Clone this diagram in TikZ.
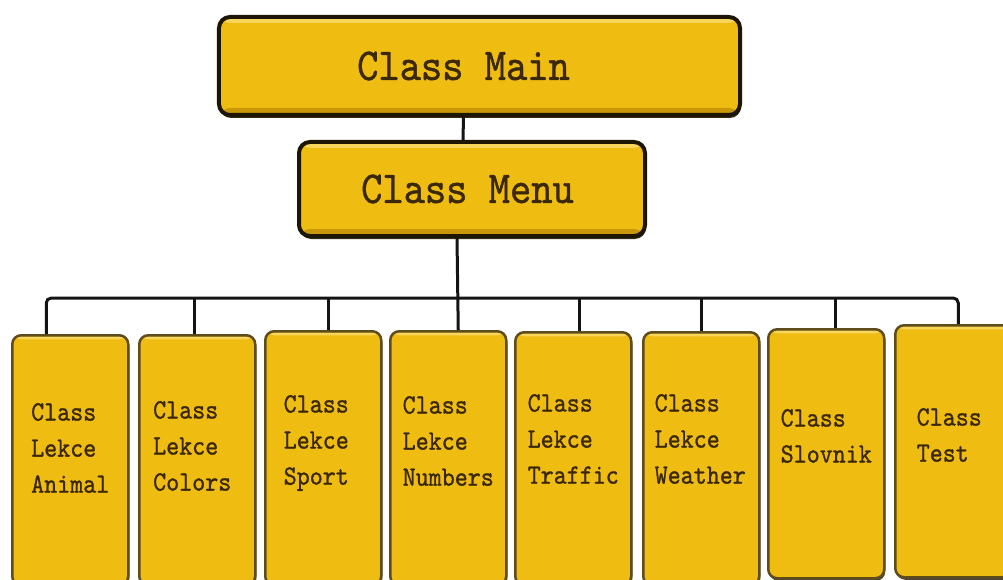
\documentclass[tikz,border=0pt]{standalone}
\usepackage{fontspec}
\newfontfamily\codefont{lmmono10-regular}[Extension=.otf,FakeBold=1]
\usepackage{xcolor}
\usepackage{tikz}
\usetikzlibrary{calc}
\usetikzlibrary{shadows}
\usetikzlibrary{positioning}

\definecolor{boxfill}{HTML}{EFBC12}
\definecolor{hilite}{HTML}{F8D65C}
\definecolor{lowlite}{HTML}{C99808}
\definecolor{boxline}{HTML}{1E1605}
\definecolor{lekline}{HTML}{5E4C1C}
\definecolor{txtbrown}{HTML}{3A2806}
\definecolor{linkcol}{HTML}{141414}

\tikzset{
	topbox/.style={draw=boxline,line width=4bp,fill=boxfill,rounded corners=11bp,inner sep=0pt,
		drop shadow={shadow xshift=1bp,shadow yshift=-3bp,fill=boxline,opacity=0.9},
		path picture={
			\fill[hilite] ([yshift=-2bp]path picture bounding box.north west) rectangle ([yshift=-6bp]path picture bounding box.north east);
			\fill[lowlite] ([yshift=2bp]path picture bounding box.south west) rectangle ([yshift=7bp]path picture bounding box.south east);}},
	lekbox/.style={draw=lekline,line width=2.5bp,fill=boxfill,rounded corners=9bp,inner sep=0pt,
		anchor=north west,minimum width=116bp,
		drop shadow={shadow xshift=1bp,shadow yshift=-2.5bp,fill=boxline,opacity=0.8},
		path picture={
			\fill[hilite] ([yshift=-1bp]path picture bounding box.north west) rectangle ([yshift=-4bp]path picture bounding box.north east);}},
	toptext/.style={font=\codefont\fontsize{40.5bp}{46bp}\selectfont,text=txtbrown,yscale=1.13,inner sep=0pt},
	lektext/.style={font=\codefont\fontsize{24.8bp}{31.9bp}\selectfont,text=txtbrown,yscale=1.13,align=left,inner sep=0pt},
	link/.style={draw=linkcol,line width=3bp}
}

\begin{document}
\begin{tikzpicture}[x=1bp,y=-1bp]
		\useasboundingbox (0,0) rectangle (1003,580);
		% top of the tree
		\node[topbox,minimum width=521bp,minimum height=98bp] (main) at (479.5,66) {};
		\node[topbox,minimum width=346bp,minimum height=94bp] (menu) at (472,189) {};
		\node[toptext] (maintxt) at ([xshift=-16bp]main.center) {Class Main};
		\node[toptext] (menutxt) at ([xshift=-4.5bp]menu.center) {Class Menu};
		% lessons
		\node[lekbox,minimum height=250bp] (anim) at (11,334) {};
		\node[lekbox,minimum height=250bp] (colors) at (138,334) {};
		\node[lekbox,minimum height=254bp] (sport) at (264,330) {};
		\node[lekbox,minimum height=254bp] (numbers) at (389,330) {};
		\node[lekbox,minimum height=253bp] (traffic) at (514,331) {};
		\node[lekbox,minimum height=253bp] (weather) at (642,331) {};
		\node[lekbox,minimum height=249bp] (slovnik) at (767,328) {};
		\node[lekbox,minimum height=252bp] (test) at (894,324) {};
		\node[lektext] (animtxt) at ([yshift=-114bp]anim.north) {Class\\Lekce\\Animal};
		\node[lektext] (colorstxt) at ([xshift=-5bp,yshift=-112bp]colors.north) {Class\\Lekce\\Colors};
		\node[lektext] (sporttxt) at ([xshift=-7bp,yshift=-113bp]sport.north) {Class\\Lekce\\Sport};
		\node[lektext] (numberstxt) at ([yshift=-111bp]numbers.north) {Class\\Lekce\\Numbers};
		\node[lektext] (traffictxt) at ([yshift=-108bp]traffic.north) {Class\\Lekce\\Traffic};
		\node[lektext] (weathertxt) at ([xshift=-1bp,yshift=-108bp]weather.north) {Class\\Lekce\\Weather};
		\node[lektext] (slovniktxt) at ([yshift=-108bp]slovnik.north) {Class\\Slovnik};
		\node[lektext] (testtxt) at ([xshift=-4bp,yshift=-111bp]test.north) {Class\\Test};
		% connectors
		\coordinate (bus) at (0,298);
		\coordinate[xshift=-24bp] (d1) at (anim.north);
		\coordinate[xshift=-3bp] (d2) at (colors.north);
		\coordinate[xshift=5bp] (d3) at (sport.north);
		\coordinate[xshift=6bp] (d5) at (traffic.north);
		\coordinate (d6) at (weather.north);
		\coordinate[xshift=9bp] (d7) at (slovnik.north);
		\coordinate[xshift=5bp] (d8) at (test.north);
		\draw[link] ([xshift=-16bp]main.south) -- ([xshift=-9bp]menu.north);
		\draw[link] ([xshift=-15bp]menu.south) -- ([xshift=10bp]numbers.north);
		\draw[link,rounded corners=5bp] (d1) -- (d1 |- bus) -- (d8 |- bus) -- (d8);
		\draw[link] (d2 |- bus) -- (d2);
		\draw[link] (d3 |- bus) -- (d3);
		\draw[link] (d5 |- bus) -- (d5);
		\draw[link] (d6 |- bus) -- (d6);
		\draw[link] (d7 |- bus) -- (d7);
	\end{tikzpicture}
\end{document}
